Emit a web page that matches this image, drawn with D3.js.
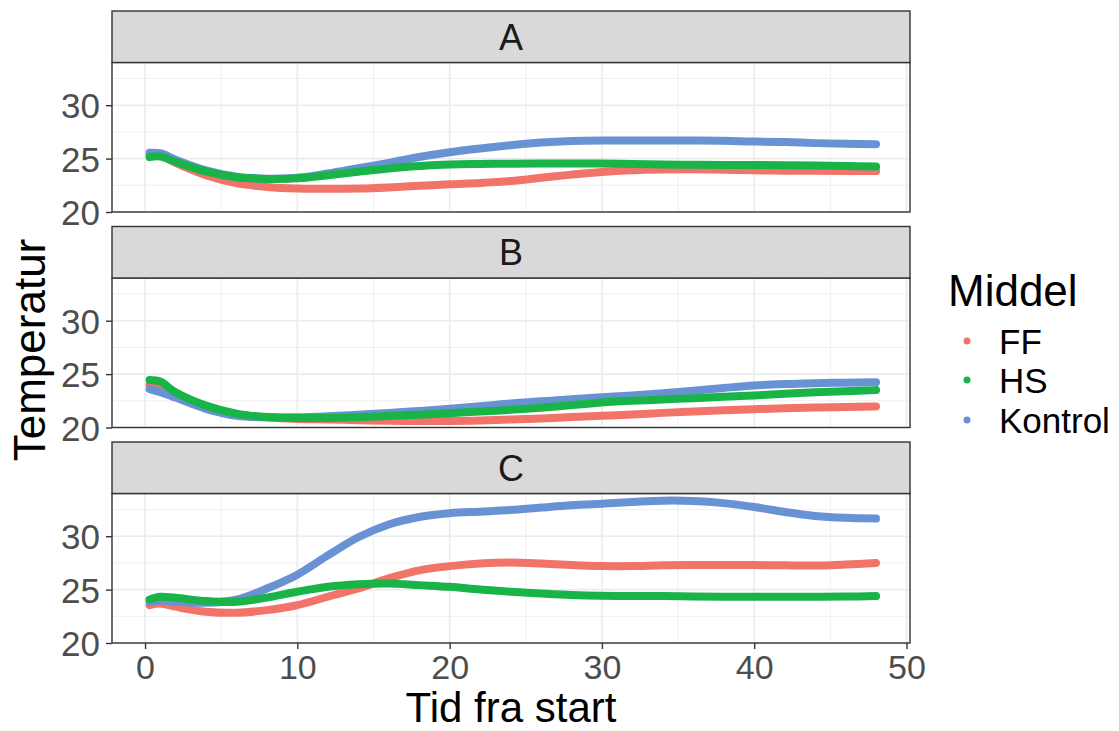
<!DOCTYPE html>
<html>
<head>
<meta charset="utf-8">
<script src="https://cdn.jsdelivr.net/npm/d3@7"></script>
<style>
  body { margin: 0; background: #fff; }
  text { font-family: "Liberation Sans", Arial, sans-serif; }
</style>
</head>
<body>
<div id="chart"></div>
<script>
// Data
var panels = ["A", "B", "C"];
var groups = ["FF", "HS", "Kontrol"];
var hours = [0.3, 1, 2, 4, 6, 8, 10, 12, 14, 16, 18, 20, 22, 24, 26, 28, 30, 32, 34, 36, 38, 40, 42, 44, 46, 48];

var ffA = [25.35, 25.3, 24.6, 23.45, 22.7, 22.35, 22.2, 22.18, 22.2, 22.3, 22.45, 22.6, 22.72, 22.9, 23.2, 23.5, 23.75, 23.9, 23.98, 24.0, 23.95, 23.9, 23.87, 23.86, 23.85, 23.83];
var hsA = [25.15, 25.2, 24.7, 23.8, 23.25, 23.1, 23.15, 23.45, 23.77, 24.08, 24.3, 24.45, 24.5, 24.52, 24.55, 24.55, 24.55, 24.5, 24.45, 24.42, 24.4, 24.4, 24.38, 24.35, 24.3, 24.25];
var koA = [25.55, 25.5, 24.9, 23.9, 23.3, 23.12, 23.2, 23.6, 24.1, 24.6, 25.15, 25.6, 25.95, 26.25, 26.5, 26.65, 26.7, 26.7, 26.7, 26.7, 26.68, 26.6, 26.55, 26.45, 26.38, 26.35];

var ffB = [24.0, 23.8, 23.0, 21.9, 21.25, 20.95, 20.8, 20.75, 20.68, 20.63, 20.6, 20.6, 20.65, 20.75, 20.85, 20.98, 21.1, 21.22, 21.37, 21.5, 21.62, 21.72, 21.8, 21.87, 21.92, 21.96];
var hsB = [24.45, 24.3, 23.3, 22.05, 21.3, 20.98, 20.9, 20.9, 20.97, 21.07, 21.2, 21.34, 21.5, 21.65, 21.85, 22.1, 22.35, 22.5, 22.62, 22.75, 22.88, 23.0, 23.15, 23.3, 23.4, 23.5];
var koB = [23.6, 23.3, 22.8, 21.75, 21.1, 20.95, 20.95, 21.05, 21.2, 21.35, 21.55, 21.75, 21.98, 22.25, 22.45, 22.65, 22.83, 23.0, 23.2, 23.45, 23.7, 23.93, 24.07, 24.15, 24.2, 24.24];

var ffC = [23.55, 23.7, 23.4, 22.93, 22.83, 23.08, 23.55, 24.33, 25.1, 26.05, 26.8, 27.2, 27.45, 27.55, 27.45, 27.3, 27.2, 27.2, 27.28, 27.3, 27.3, 27.3, 27.27, 27.25, 27.35, 27.5];
var hsC = [24.08, 24.33, 24.23, 23.93, 23.86, 24.25, 24.8, 25.26, 25.5, 25.58, 25.42, 25.26, 25.0, 24.8, 24.64, 24.5, 24.42, 24.4, 24.39, 24.35, 24.33, 24.33, 24.33, 24.33, 24.35, 24.39];
var koC = [23.86, 24.0, 23.86, 23.77, 24.05, 25.1, 26.4, 28.2, 29.9, 31.1, 31.8, 32.15, 32.3, 32.45, 32.68, 32.9, 33.05, 33.2, 33.33, 33.3, 33.1, 32.74, 32.27, 31.9, 31.72, 31.65];

var xTicks = [0, 10, 20, 30, 40, 50];
var yTicks = [20, 25, 30];

var series = {
  A: { FF: ffA, HS: hsA, Kontrol: koA },
  B: { FF: ffB, HS: hsB, Kontrol: koB },
  C: { FF: ffC, HS: hsC, Kontrol: koC }
};

var colors = { FF: "#F1736A", HS: "#18B447", Kontrol: "#6992D4" };
var drawOrder = ["FF", "Kontrol", "HS"];

// Layout
var svgWidth = 1119;
var svgHeight = 731;
var left = 112, right = 910;
var stripH = 51.5, plotH = 149.5, step = 215.5, top0 = 11;

var svg = d3.select("#chart")
  .append("svg")
  .attr("width", svgWidth)
  .attr("height", svgHeight);

var xScale = d3.scaleLinear()
  .domain([-2.17, 50.23])
  .range([left, right]);

var line = d3.line()
  .x(d => xScale(d[0]))
  .curve(d3.curveCatmullRom.alpha(0.5));

panels.forEach(function (p, i) {
  var stripTop = top0 + i * step;
  var plotTop = stripTop + stripH;
  var plotBottom = plotTop + plotH;

  var yScale = d3.scaleLinear()
    .domain([20, 34])
    .range([plotBottom, plotTop]);

  var g = svg.append("g");

  // panel background + grid
  g.append("rect")
    .attr("x", left).attr("y", plotTop)
    .attr("width", right - left).attr("height", plotH)
    .attr("fill", "#fff");

  var minorX = d3.range(5, 50, 10);
  var minorY = [22.5, 27.5, 32.5];

  g.selectAll(".mx").data(minorX).enter().append("line")
    .attr("x1", d => xScale(d)).attr("x2", d => xScale(d))
    .attr("y1", plotTop).attr("y2", plotBottom)
    .attr("stroke", "#EBEBEB").attr("stroke-width", 0.8);
  g.selectAll(".my").data(minorY).enter().append("line")
    .attr("x1", left).attr("x2", right)
    .attr("y1", d => yScale(d)).attr("y2", d => yScale(d))
    .attr("stroke", "#EBEBEB").attr("stroke-width", 0.8);
  g.selectAll(".gx").data(xTicks).enter().append("line")
    .attr("x1", d => xScale(d)).attr("x2", d => xScale(d))
    .attr("y1", plotTop).attr("y2", plotBottom)
    .attr("stroke", "#EBEBEB").attr("stroke-width", 1.6);
  g.selectAll(".gy").data(yTicks).enter().append("line")
    .attr("x1", left).attr("x2", right)
    .attr("y1", d => yScale(d)).attr("y2", d => yScale(d))
    .attr("stroke", "#EBEBEB").attr("stroke-width", 1.6);

  // curves
  drawOrder.forEach(function (k) {
    var vals = series[p][k];
    var pts = hours.map((h, j) => [h, vals[j]]);
    g.append("path")
      .datum(pts)
      .attr("d", line.y(d => yScale(d[1])))
      .attr("fill", "none")
      .attr("stroke", colors[k])
      .attr("stroke-width", 8)
      .attr("stroke-linecap", "round")
      .attr("stroke-linejoin", "round");
  });

  // panel border
  g.append("rect")
    .attr("x", left).attr("y", plotTop)
    .attr("width", right - left).attr("height", plotH)
    .attr("fill", "none").attr("stroke", "#333333").attr("stroke-width", 1.4);

  // strip
  g.append("rect")
    .attr("x", left).attr("y", stripTop)
    .attr("width", right - left).attr("height", stripH)
    .attr("fill", "#D9D9D9").attr("stroke", "#333333").attr("stroke-width", 1.4);
  g.append("text")
    .attr("x", (left + right) / 2)
    .attr("y", stripTop + stripH / 2 + 13)
    .attr("text-anchor", "middle")
    .style("font-size", "36px")
    .style("fill", "#1A1A1A")
    .text(p);

  // y axis
  var leftAxis = d3.axisLeft(yScale).tickValues(yTicks).tickSize(6).tickPadding(6);
  var ya = g.append("g")
    .attr("transform", `translate(${left}, 0)`)
    .call(leftAxis);
  ya.select(".domain").remove();
  ya.selectAll("line").attr("stroke", "#333333").attr("stroke-width", 1.4);
  ya.selectAll("text")
    .style("font-size", "35px")
    .style("fill", "#4D4D4D")
    .attr("dy", "0.36em");

  // x axis only on the bottom panel
  if (i === panels.length - 1) {
    var bottomAxis = d3.axisBottom(xScale).tickValues(xTicks).tickSize(6).tickPadding(6);
    var xa = g.append("g")
      .attr("transform", `translate(0, ${plotBottom})`)
      .call(bottomAxis);
    xa.select(".domain").remove();
    xa.selectAll("line").attr("stroke", "#333333").attr("stroke-width", 1.4);
    xa.selectAll("text")
      .style("font-size", "34px")
      .style("fill", "#4D4D4D");
  }
});

// axis titles
svg.append("text")
  .attr("transform", "translate(45, 350) rotate(-90)")
  .attr("text-anchor", "middle")
  .style("font-size", "44px")
  .style("fill", "#000")
  .text("Temperatur");

svg.append("text")
  .attr("x", (left + right) / 2)
  .attr("y", 722)
  .attr("text-anchor", "middle")
  .style("font-size", "42px")
  .style("fill", "#000")
  .text("Tid fra start");

// legend
var legend = svg.append("g");
legend.append("text")
  .attr("x", 948)
  .attr("y", 306)
  .style("font-size", "44px")
  .style("fill", "#000")
  .text("Middel");

var keyY = [341, 380, 420];
groups.forEach(function (k, j) {
  legend.append("circle")
    .attr("cx", 967).attr("cy", keyY[j])
    .attr("r", 3.5)
    .attr("fill", colors[k]);
  legend.append("text")
    .attr("x", 999)
    .attr("y", keyY[j] + 12.5)
    .style("font-size", "35px")
    .style("fill", "#000")
    .text(k);
});
</script>
</body>
</html>
